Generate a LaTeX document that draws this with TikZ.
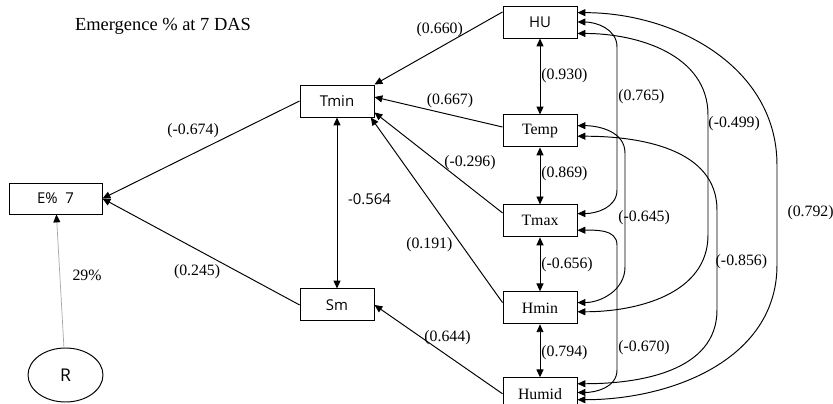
\documentclass[tikz,border=0pt]{standalone}
\usepackage{fontspec}
\setmainfont{Liberation Serif}
\newfontfamily\boxsans{Open Sans}
\usetikzlibrary{arrows.meta,positioning,shapes.geometric}
\newcommand{\labfont}{\fontsize{9}{10}\selectfont}
\newcommand{\sansfont}{\boxsans\fontsize{8.5}{9}\selectfont}

\begin{document}
\begin{tikzpicture}[x=0.02cm,y=0.02cm,line width=0.55pt,
  >={Triangle[length=4.5pt,width=4pt]},node distance=1.14cm,
  box/.style={draw,minimum width=1.48cm,minimum height=0.64cm,inner sep=1pt,font=\labfont},
  sbox/.style={box,font=\sansfont},
  lab/.style={inner sep=0pt,font=\labfont},
  slab/.style={inner sep=0pt,font=\sansfont}]
\useasboundingbox (0,0) rectangle (833,403);
\node[font=\fontsize{10.5}{12}\selectfont] (title) at (163,377) {Emergence \% at 7 DAS};
% right column
\node[sbox] (HU) at (540,381) {HU};
\node[box,below=1.52cm of HU] (Temp) {Temp};
\node[box,below=of Temp] (Tmax) {Tmax};
\node[box,below=1.08cm of Tmax] (Hmin) {Hmin};
\node[box,below=1.06cm of Hmin] (Humid) {Humid};
% middle and left
\node[sbox] (Tmin) at (337,302) {Tmin};
\node[sbox,below=3.42cm of Tmin] (Sm) {Sm};
\node[sbox,minimum width=1.86cm,minimum height=0.62cm] (E7) at (55.5,204.5) {E\%\ \ 7};
\node[draw,ellipse,minimum width=1.5cm,minimum height=1.08cm,inner sep=0pt,font=\boxsans\fontsize{10}{11}\selectfont] (R) at (65.5,28) {R};
% paths to E% 7
\draw[->] (Tmin.west) -- node[lab,pos=0.54,above=8.5pt]{(-0.674)} (E7.east);
\draw[->] (Sm.west) -- node[lab,pos=0.52,below=8.5pt]{(0.245)} (E7.east);
\draw[draw=gray!70,line width=0.4pt,-{Triangle[length=4.5pt,width=4pt,black]}] (R) -- node[lab,pos=0.54,right=7pt]{29\%} (E7);
\draw[<->] (Tmin) -- node[slab,pos=0.48,right=6pt]{-0.564} (Sm);
% paths to Tmin and Sm
\draw[->] (HU.165) -- node[lab,pos=0.49,above=5.5pt]{(0.660)} (Tmin.north east);
\draw[->] (Temp.174) -- node[lab,pos=0.41,above=3.4pt]{(0.667)} (Tmin.6);
\draw[->] (Tmax.168) -- node[lab,pos=0.5,right=3pt]{(-0.296)} (Tmin.-17);
\draw[->] (Hmin.172) -- node[lab,pos=0.31,left=5pt]{(0.191)} (Tmin.-26);
\draw[->] (Humid.west) -- node[lab,pos=0.43,above=6pt]{(0.644)} (Sm.east);
% correlations between neighbours
\draw[<->] (HU) -- node[lab,pos=0.49,right=0.5pt]{(0.930)} (Temp);
\draw[<->] (Temp) -- node[lab,pos=0.46,right=0.5pt]{(0.869)} (Tmax);
\draw[<->] (Tmax) -- node[lab,pos=0.5,right=0.5pt]{(-0.656)} (Hmin);
\draw[<->] (Hmin) -- node[lab,pos=0.54,right=0.5pt]{(0.794)} (Humid);
% correlations round the right side
\draw[<->] (HU.east) to[out=0,in=90] (617,356) -- node[lab,pos=0.35,right=0.5pt]{(0.765)} (617,213) to[out=-90,in=0] (Tmax.11);
\draw[<->] (HU.-17) to[out=0,in=90] (708,288) -- node[lab,pos=0.07,right=0pt]{(-0.499)} (708,168) to[out=-90,in=0] (Hmin.-6);
\draw[<->] (HU.14) to[out=0,in=90] (777,238) -- node[lab,pos=0.48,right=5.7pt]{(0.792)} (777,138) to[out=-90,in=0] (Humid.-9);
\draw[<->] (Temp.8) to[out=0,in=90] (625,250) -- node[lab,pos=0.57,right=-4pt]{(-0.645)} (625,136) to[out=-90,in=0] (Hmin.8);
\draw[<->] (Temp.-8) to[out=0,in=90] (717,193) -- node[lab,pos=0.52,right=-1pt]{(-0.856)} (717,93) to[out=-90,in=0] (Humid.15);
\draw[<->] (Tmax.-14) to[out=0,in=90] (617,158) -- node[lab,pos=0.82,right=0.5pt]{(-0.670)} (617,33) to[out=-90,in=0] (Humid.2);
\end{tikzpicture}
\end{document}
